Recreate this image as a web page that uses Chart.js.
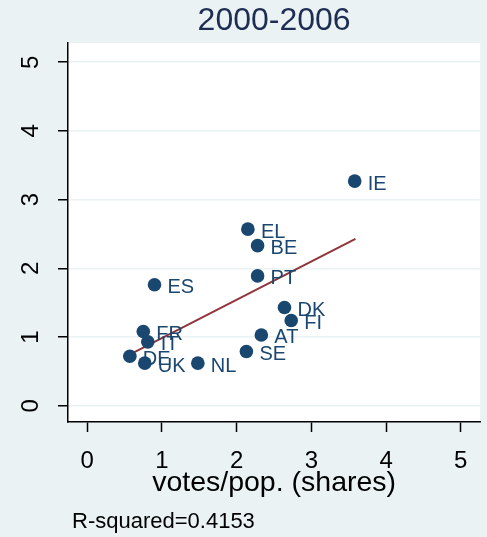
<!DOCTYPE html>
<html>
<head>
<meta charset="utf-8">
<script src="https://cdn.jsdelivr.net/npm/chart.js@4"></script>
<style>
  html, body { margin: 0; padding: 0; background: #eaf2f3; }
  #wrap { width: 487px; height: 537px; }
</style>
</head>
<body>
<div id="wrap"><canvas id="c" width="487" height="537"></canvas></div>
<script>
const countries = ["IE","EL","BE","PT","ES","DK","FI","AT","SE","NL","FR","IT","DE","UK"];
const votesShare = [3.58, 2.15, 2.28, 2.28, 0.90, 2.64, 2.73, 2.33, 2.13, 1.48, 0.75, 0.81, 0.57, 0.77];
const fundsShare = [3.27, 2.57, 2.33, 1.89, 1.76, 1.43, 1.24, 1.03, 0.79, 0.62, 1.08, 0.93, 0.72, 0.62];
const fitX = [0.56, 3.59];
const fitY = [0.74, 2.43];
const xTicks = [0, 1, 2, 3, 4, 5];
const yTicks = [0, 1, 2, 3, 4, 5];
const titleText = "2000-2006";
const xTitle = "votes/pop. (shares)";
const noteText = "R-squared=0.4153";

const FONT = "'Liberation Sans', Arial, Helvetica, sans-serif";

const bgPlugin = {
  id: 'bg',
  beforeDraw(chart) {
    const {ctx, chartArea: a} = chart;
    ctx.save();
    ctx.fillStyle = '#eaf2f3';
    ctx.fillRect(0, 0, chart.width, chart.height);
    ctx.fillStyle = '#ffffff';
    ctx.fillRect(a.left, a.top, a.right - a.left, a.bottom - a.top);
    ctx.restore();
  }
};

const labelPlugin = {
  id: 'pointLabels',
  afterDatasetsDraw(chart) {
    const meta = chart.getDatasetMeta(1);
    const ctx = chart.ctx;
    ctx.save();
    ctx.font = "20px " + FONT;
    ctx.fillStyle = '#1a476f';
    ctx.textAlign = 'left';
    ctx.textBaseline = 'middle';
    meta.data.forEach((el, i) => {
      ctx.fillText(countries[i], el.x + 13, el.y + 3);
    });
    ctx.restore();
  }
};

const notePlugin = {
  id: 'note',
  afterDraw(chart) {
    const ctx = chart.ctx;
    ctx.save();
    ctx.font = "22px " + FONT;
    ctx.fillStyle = '#000000';
    ctx.textAlign = 'left';
    ctx.textBaseline = 'middle';
    ctx.fillText(noteText, 72, 522);
    ctx.restore();
  }
};

new Chart(document.getElementById('c'), {
  data: {
    datasets: [
      {
        type: 'line',
        label: 'fit',
        data: fitX.map((x, i) => ({x: x, y: fitY[i]})),
        borderColor: '#90353b',
        borderWidth: 2,
        pointRadius: 0,
        fill: false,
        order: 2
      },
      {
        type: 'scatter',
        label: 'countries',
        data: votesShare.map((x, i) => ({x: x, y: fundsShare[i]})),
        backgroundColor: '#1a476f',
        borderColor: '#1a476f',
        borderWidth: 0,
        pointRadius: 6.8,
        order: 1
      }
    ]
  },
  options: {
    responsive: false,
    animation: false,
    layout: { padding: { left: 0, right: 6, top: 0, bottom: 37 } },
    plugins: {
      legend: { display: false },
      tooltip: { enabled: false },
      title: {
        display: true,
        fullSize: false,
        text: titleText,
        color: '#1e2d53',
        font: { family: FONT, size: 32, weight: 'normal' },
        padding: { top: 2, bottom: 2.6 }
      }
    },
    scales: {
      x: {
        type: 'linear',
        min: -0.258,
        max: 5.26,
        afterBuildTicks: s => { s.ticks = xTicks.map(v => ({value: v})); },
        afterFit: s => { s.height = 78; },
        grid: { drawOnChartArea: false, tickColor: '#000', tickLength: 10, tickWidth: 1.5 },
        border: { display: true, color: '#000', width: 1.5 },
        ticks: { color: '#000', font: { family: FONT, size: 24 }, padding: 15, maxRotation: 0 },
        title: { display: true, text: xTitle, color: '#000', font: { family: FONT, size: 28.5 }, padding: 0 }
      },
      y: {
        type: 'linear',
        min: -0.237,
        max: 5.28,
        afterBuildTicks: s => { s.ticks = yTicks.map(v => ({value: v})); },
        afterFit: s => { s.width = 68; },
        grid: { color: '#eaf2f3', lineWidth: 1.5, tickColor: '#000', tickLength: 10, tickWidth: 1.5 },
        border: { display: true, color: '#000', width: 1.5 },
        ticks: { color: '#000', font: { family: FONT, size: 24 }, padding: 20, minRotation: 90, maxRotation: 90, crossAlign: 'center' }
      }
    }
  },
  plugins: [bgPlugin, labelPlugin, notePlugin]
});
</script>
</body>
</html>
